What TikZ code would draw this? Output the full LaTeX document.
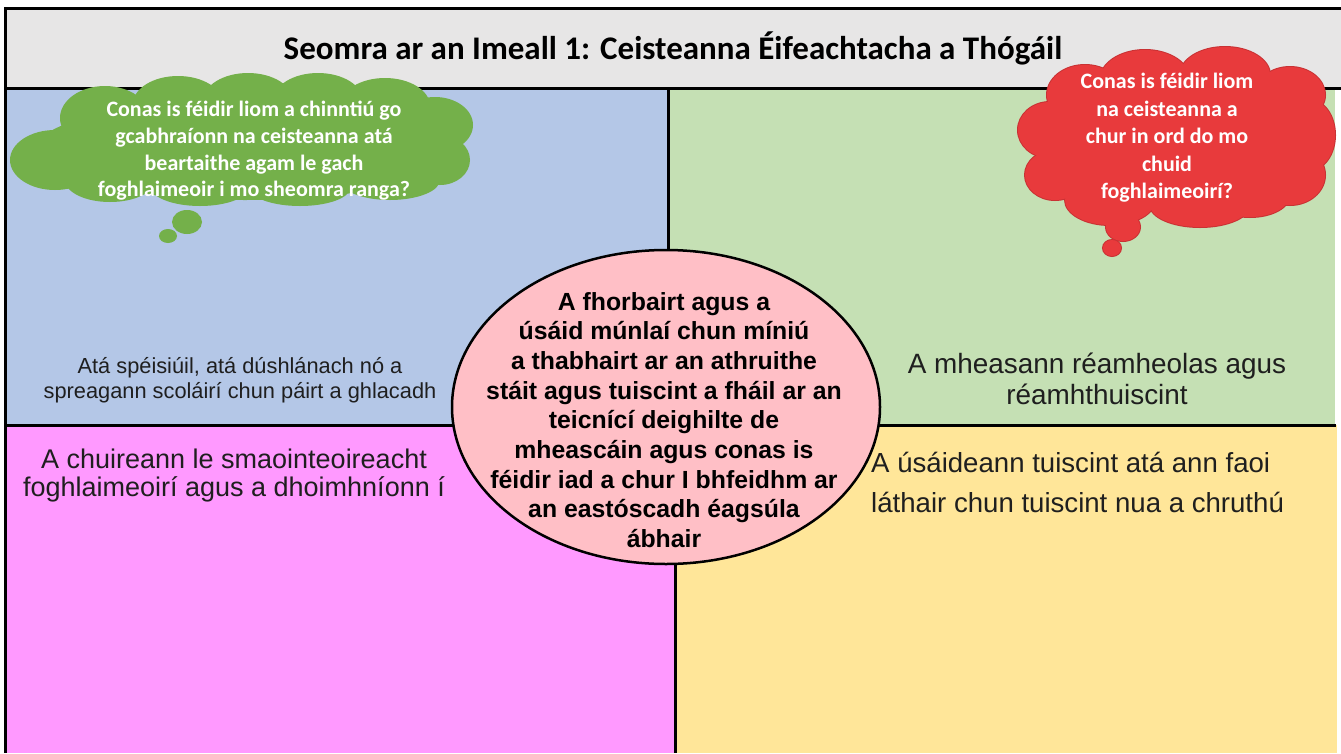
\documentclass[tikz,border=0pt]{standalone}
\usepackage{fontspec}
\setmainfont{Liberation Sans}
\newfontfamily\calibri{Carlito}
\usetikzlibrary{shapes.geometric}
\definecolor{qblue}{HTML}{B4C7E7}
\definecolor{qgreen}{HTML}{C5E0B4}
\definecolor{qpink}{HTML}{FF99FF}
\definecolor{qyellow}{HTML}{FFE699}
\definecolor{titlegray}{HTML}{E7E6E6}
\definecolor{ellpink}{HTML}{FFBFC6}
\definecolor{cloudgreen}{HTML}{74B04A}
\definecolor{cloudred}{HTML}{E83A3C}
\definecolor{cloudredline}{HTML}{C93234}
\tikzset{
  frame/.style={draw=black, line width=3pt},
  cloudtext/.style={text=white, align=center, inner sep=0pt},
  quadtext/.style={align=center, inner sep=0pt, text=black!88},
}
\begin{document}
\begin{tikzpicture}[x=1pt,y=-1pt]
\useasboundingbox (0,0) rectangle (1341,753);
\fill[white] (0,0) rectangle (1341,753);
% quadrants
\fill[qblue] (5,88) rectangle (668,425);
\fill[qgreen] (668,88) rectangle (1335,425);
\fill[qpink] (5,425) rectangle (675,753);
\fill[qyellow] (675,425) rectangle (1337,753);
\fill[titlegray] (5,8) rectangle (1341,88);
\draw[frame] (1341,8) -- (5,8) -- (5,753);
\draw[frame] (5,88) -- (1341,88);
\draw[frame] (5,425) -- (1336,425);
\draw[frame] (668,88) -- (668,425);
\draw[frame] (675,425) -- (675,753);
% title
\node[font=\calibri\bfseries\fontsize{33}{36}\selectfont, inner sep=0pt] (title) at (673,48) {Seomra ar an Imeall 1: Ceisteanna Éifeachtacha a Thógáil};
% central ellipse
\node[ellipse, draw=black, line width=2.5pt, fill=ellpink, minimum width=428pt, minimum height=314pt, inner sep=0pt] (centre) at (666,407) {};
\node[align=center, inner sep=0pt, font=\bfseries\fontsize{24.8}{29.7}\selectfont] (centretext) at (664,420) {A fhorbairt agus a\\úsáid múnlaí chun míniú\\a thabhairt ar an athruithe\\stáit agus tuiscint a fháil ar an\\teicnící deighilte de\\mheascáin agus conas is\\féidir iad a chur I bhfeidhm ar\\an eastóscadh éagsúla\\ábhair};
% quadrant texts
\node[quadtext, font=\fontsize{21.8}{25}\selectfont] (qa) at (240,380) {Atá spéisiúil, atá dúshlánach nó a\\spreagann scoláirí chun páirt a ghlacadh};
\node[quadtext, font=\fontsize{27.9}{31}\selectfont] (qb) at (1097,379) {A mheasann réamheolas agus\\réamhthuiscint};
\node[quadtext, font=\fontsize{27}{28}\selectfont] (qc) at (234,476) {A chuireann le smaointeoireacht\\foghlaimeoirí agus a dhoimhníonn í};
\node[quadtext, align=left, anchor=west, font=\fontsize{27.6}{40}\selectfont] (qd) at (871,482) {A úsáideann tuiscint atá ann faoi\\láthair chun tuiscint nua a chruthú};
% green cloud
\begin{scope}[fill=cloudgreen]
\fill (245,150) circle[x radius=210pt, y radius=50pt];
\fill (105,118) circle[x radius=45pt, y radius=32pt];
\fill (178,104) circle[x radius=45pt, y radius=28pt];
\fill (248,101) circle[x radius=45pt, y radius=28pt];
\fill (318,101) circle[x radius=45pt, y radius=28pt];
\fill (385,106) circle[x radius=45pt, y radius=28pt];
\fill (435,125) circle[x radius=38pt, y radius=28pt];
\fill (55,160) circle[x radius=45pt, y radius=30pt];
\fill (110,180) circle[x radius=45pt, y radius=22pt];
\fill (200,186) circle[x radius=50pt, y radius=20pt];
\fill (300,188) circle[x radius=50pt, y radius=18pt];
\fill (390,180) circle[x radius=50pt, y radius=20pt];
\fill (440,160) circle[x radius=30pt, y radius=25pt];
\fill (187,222) circle[x radius=15pt, y radius=12pt];
\fill (168,236) circle[x radius=9pt, y radius=7pt];
\end{scope}
\node[cloudtext, font=\calibri\bfseries\fontsize{22}{26.7}\selectfont] (qgreen) at (254,151) {Conas is féidir liom a chinntiú go\\gcabhraíonn na ceisteanna atá\\beartaithe agam le gach\\foghlaimeoir i mo sheomra ranga?};
% red cloud
\begin{scope}
\foreach \px/\py/\rx/\ry in {1175/140/140/70, 1085/95/38/30, 1145/80/45/30, 1225/75/45/28, 1290/95/35/28, 1310/135/25/35, 1290/175/35/30, 1050/130/32/28, 1055/175/30/25, 1110/200/45/25, 1200/205/50/22, 1250/195/40/22, 1123/227/17/14, 1112/248/9/8}
  \draw[cloudredline, line width=2pt] (\px,\py) circle[x radius=\rx pt, y radius=\ry pt];
\foreach \px/\py/\rx/\ry in {1175/140/140/70, 1085/95/38/30, 1145/80/45/30, 1225/75/45/28, 1290/95/35/28, 1310/135/25/35, 1290/175/35/30, 1050/130/32/28, 1055/175/30/25, 1110/200/45/25, 1200/205/50/22, 1250/195/40/22, 1123/227/17/14, 1112/248/9/8}
  \fill[cloudred] (\px,\py) circle[x radius=\rx pt, y radius=\ry pt];
\end{scope}
\node[cloudtext, font=\calibri\bfseries\fontsize{22}{27.5}\selectfont] (qred) at (1167,138) {Conas is féidir liom\\na ceisteanna a\\chur in ord do mo\\chuid\\foghlaimeoirí?};
\end{tikzpicture}
\end{document}
